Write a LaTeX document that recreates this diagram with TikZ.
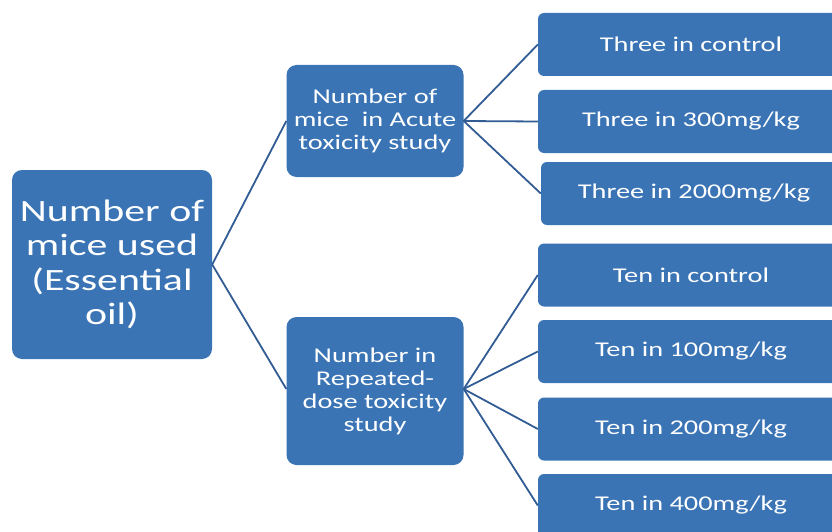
\documentclass[tikz,border=0pt]{standalone}
\usepackage{fontspec}
\setmainfont{Carlito}[FakeStretch=1.35]
\usetikzlibrary{arrows}

\definecolor{boxblue}{RGB}{58,116,181}
\definecolor{lineblue}{RGB}{50,92,148}

\begin{document}
\begin{tikzpicture}[x=1pt, y=-1pt,
        bigbox/.style={fill=boxblue, draw=none, rounded corners=10pt, text=white,
          align=center, inner sep=0pt},
        leafbox/.style={fill=boxblue, draw=none, rounded corners=6pt, text=white,
          minimum width=306pt, minimum height=63pt, inner sep=0pt,
          font=\fontsize{21}{24}\selectfont},
        link/.style={draw=lineblue, line width=1.8pt}]
        \clip (0,0) rectangle (832,532);
        \node (root) at (112,264.5) [bigbox, minimum width=200pt, minimum height=189pt,
          font=\fontsize{31}{34.5}\selectfont] {Number of\\mice used\\(Essential\\oil)};
        \node (acute) at (375,121) [bigbox, minimum width=177pt, minimum height=112pt,
          font=\fontsize{21}{23}\selectfont] {Number of\\mice\ \ in Acute\\toxicity study};
        \node (repeated) at (375,391) [bigbox, minimum width=177pt, minimum height=148pt,
          font=\fontsize{21}{23}\selectfont] {Number in\\Repeated-\\dose toxicity\\study};
      \node (a1) at (691,44.5) [leafbox] {Three in control};
      \node (a2) at (691,121.5) [leafbox] {Three in 300mg/kg};
      \node (a3) at (694,193.5) [leafbox] {Three in 2000mg/kg};
      \node (r1) at (691,275) [leafbox] {Ten in control};
      \node (r2) at (691,351.5) [leafbox] {Ten in 100mg/kg};
      \node (r3) at (691,429) [leafbox] {Ten in 200mg/kg};
      \node (r4) at (691,505.5) [leafbox] {Ten in 400mg/kg};
      \draw[link] (root.east) -- (acute.west);
      \draw[link] (root.east) -- ([yshift=2pt]repeated.west);
      \foreach \leaf in {a1,a2,a3}
        \draw[link] (acute.east) -- (\leaf.west);
      \foreach \leaf in {r1,r2,r3,r4}
        \draw[link] ([yshift=2pt]repeated.east) -- (\leaf.west);
    \end{tikzpicture}
\end{document}
